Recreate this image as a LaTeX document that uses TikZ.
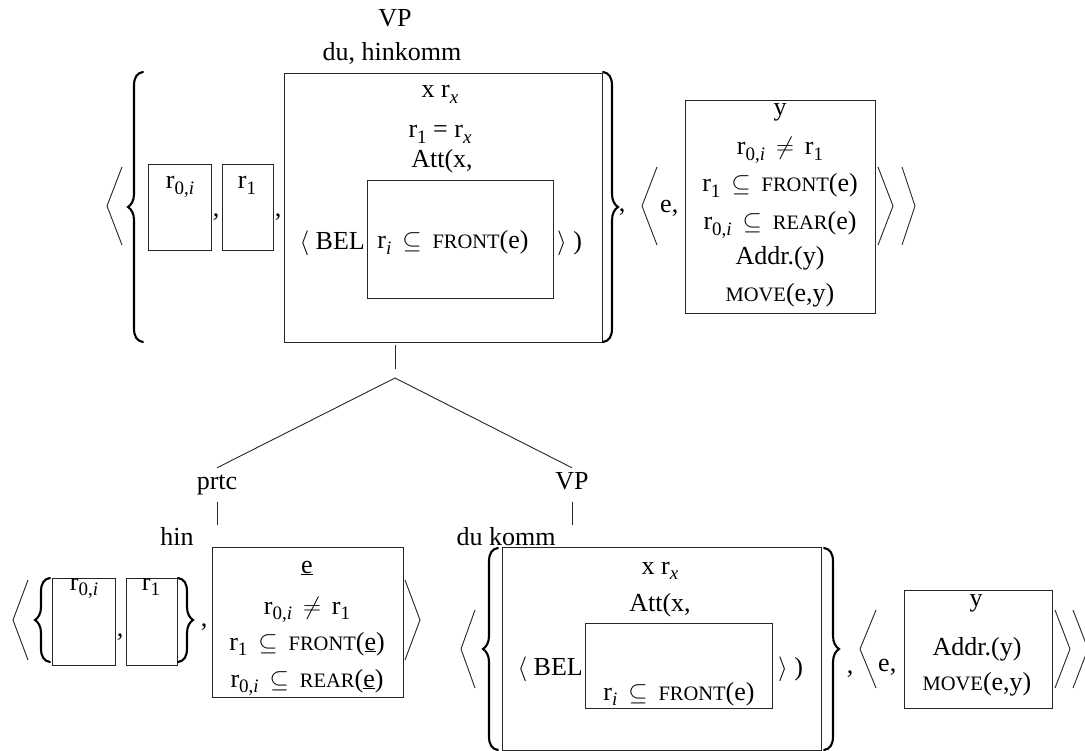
\documentclass[tikz,border=0pt]{standalone}
\usepackage{fontspec}
\setmainfont{Liberation Serif}
\newcommand{\fsz}{\fontsize{26}{31}\selectfont}
\newcommand{\lowsub}[1]{\raisebox{-0.2em}{\fontsize{19}{19}\selectfont #1}}
\newcommand{\smc}[1]{{\fontsize{20.5}{20}\selectfont #1}}
\newcommand{\myrel}[1]{\hspace{0.42em}$#1$\hspace{0.42em}}
\newcommand{\bx}[5]{\node[rbox, anchor=north west, minimum width={(#4-#2)*1pt}, minimum height={(#5-#3)*1pt}] (#1) at (#2,#3) {};}
\newcommand{\mybL}[3]{\draw[brc] ({#1+15},#2) .. controls ({#1+9},{#2+1}) and ({#1+6},{#2+5}) .. ({#1+6},{#2+14}) -- ({#1+6},{(#2+#3)/2-13}) .. controls ({#1+6},{(#2+#3)/2-6}) and ({#1+3},{(#2+#3)/2-2}) .. (#1,{(#2+#3)/2}) .. controls ({#1+3},{(#2+#3)/2+2}) and ({#1+6},{(#2+#3)/2+6}) .. ({#1+6},{(#2+#3)/2+13}) -- ({#1+6},{#3-14}) .. controls ({#1+6},{#3-5}) and ({#1+9},{#3-1}) .. ({#1+15},#3);}
\newcommand{\mybR}[3]{\draw[brc] ({#1-15},#2) .. controls ({#1-9},{#2+1}) and ({#1-6},{#2+5}) .. ({#1-6},{#2+14}) -- ({#1-6},{(#2+#3)/2-13}) .. controls ({#1-6},{(#2+#3)/2-6}) and ({#1-3},{(#2+#3)/2-2}) .. (#1,{(#2+#3)/2}) .. controls ({#1-3},{(#2+#3)/2+2}) and ({#1-6},{(#2+#3)/2+6}) .. ({#1-6},{(#2+#3)/2+13}) -- ({#1-6},{#3-14}) .. controls ({#1-6},{#3-5}) and ({#1-9},{#3-1}) .. ({#1-15},#3);}
\newcommand{\angL}[4]{\draw[ang] (#2,#3) -- (#1,{(#3+#4)/2}) -- (#2,#4);}
\newcommand{\angR}[4]{\draw[ang] (#2,#3) -- (#1,{(#3+#4)/2}) -- (#2,#4);}
\begin{document}
\begin{tikzpicture}[x=1pt,y=-1pt,
  rbox/.style={draw=black!85, line width=0.9pt, inner sep=0pt, outer sep=0pt},
  txt/.style={inner sep=0pt, anchor=base, font=\fsz},
  lbl/.style={inner xsep=0pt, inner ysep=3pt, text height=18pt, text depth=5pt, anchor=base, font=\fsz},
  ang/.style={draw=black!85, line width=0.9pt},
  brc/.style={draw=black, line width=2.1pt, line cap=round},
  treeline/.style={draw=black!85, line width=0.9pt}]
\useasboundingbox[fill=white] (0,0) rectangle (1085,751);

% ---------- top structure ----------
\node[lbl] (vpTop) at (395,27) {VP};
\node[txt] (duHin) at (392,61) {du, hinkomm};

\angL{107}{122}{167}{245}
\mybL{128}{72}{342}
\bx{bA}{148}{164}{211}{250}
\node[txt] (tA) at (180,189) {r\lowsub{0,\textit{i}}};
\node[txt] (cA1) at (216,217) {,};
\bx{bB}{222}{164}{273}{250}
\node[txt] (tB) at (247,189) {r\lowsub{1}};
\node[txt] (cA2) at (278,217) {,};
\bx{bC}{284}{73}{602}{342}
\node[txt] (tC1) at (440,98) {x r\lowsub{\textit{x}}};
\node[txt] (tC2) at (440,138) {r\lowsub{1} = r\lowsub{\textit{x}}};
\node[txt] (tC3) at (442,168) {Att(x,};
\bx{bD}{367}{180}{553}{298}
\node[txt, anchor=base east] (tC4) at (365,250) {$\langle$ BEL};
\node[txt] (tD) at (453,249) {r\lowsub{\textit{i}}\myrel{\subseteq}\smc{FRONT}(e)};
\node[txt, anchor=base west] (tC5) at (557,250) {$\rangle$ )};
\mybR{618}{72}{342}
\node[txt] (cA3) at (622,212) {,};
\angL{642}{657}{167}{245}
\node[txt, anchor=base west] (tE0) at (660,213) {e,};
\bx{bE}{685}{100}{875}{313}
\node[txt] (tE1) at (780,116) {y};
\node[txt] (tE2) at (780,155) {r\lowsub{0,\textit{i}}\myrel{\neq}r\lowsub{1}};
\node[txt] (tE3) at (780,192) {r\lowsub{1}\myrel{\subseteq}\smc{FRONT}(e)};
\node[txt] (tE4) at (780,230) {r\lowsub{0,\textit{i}}\myrel{\subseteq}\smc{REAR}(e)};
\node[txt] (tE5) at (780,265) {Addr.(y)};
\node[txt] (tE6) at (780,302) {\smc{MOVE}(e,y)};
\angR{893}{878}{167}{245}
\angR{915}{902}{167}{245}

% ---------- tree ----------
\coordinate (s1) at (395,345);
\coordinate (s2) at (395,369);
\draw[treeline] (s1) -- (s2);
\coordinate (apex) at (395,378);
\node[lbl] (prtc) at (217,489) {prtc};
\node[lbl] (vpB) at (572,489) {VP};
\draw[treeline] (apex) -- (prtc.north);
\draw[treeline] (apex) -- (vpB.north);
\coordinate (pe) at (217,525);
\coordinate (ve) at (572,525);
\draw[treeline, shorten <=5pt] (prtc.south) -- (pe);
\draw[treeline, shorten <=5pt] (vpB.south) -- (ve);

% ---------- bottom left ----------
\node[txt] (hin) at (177,545) {hin};
\angL{13}{28}{580}{660}
\mybL{35}{578}{662}
\bx{bF}{52}{578}{115}{665}
\node[txt] (tF) at (84,590) {r\lowsub{0,\textit{i}}};
\node[txt] (cB1) at (120,636) {,};
\bx{bG}{126}{578}{177}{665}
\node[txt] (tG) at (151,590) {r\lowsub{1}};
\mybR{193}{578}{662}
\node[txt] (cB2) at (204,626) {,};
\bx{bH}{212}{547}{403}{697}
\node[txt] (tH1) at (307,573) {\underline{e}};
\node[txt] (tH2) at (307,614) {r\lowsub{0,\textit{i}}\myrel{\neq}r\lowsub{1}};
\node[txt] (tH3) at (307,650) {r\lowsub{1}\myrel{\subseteq}\smc{FRONT}(\underline{e})};
\node[txt] (tH4) at (307,687) {r\lowsub{0,\textit{i}}\myrel{\subseteq}\smc{REAR}(\underline{e})};
\angR{420}{405}{580}{660}

% ---------- bottom right ----------
\node[txt] (duk) at (506,545) {du komm};
\angL{461}{475}{610}{688}
\mybL{483}{548}{750}
\bx{bI}{502}{547}{821}{750}
\node[txt] (tI1) at (660,574) {x r\lowsub{\textit{x}}};
\node[txt] (tI2) at (660,611) {Att(x,};
\bx{bJ}{585}{623}{772}{708}
\node[txt, anchor=base east] (tI3) at (583,675) {$\langle$ BEL};
\node[txt] (tJ) at (679,700) {r\lowsub{\textit{i}}\myrel{\subseteq}\smc{FRONT}(e)};
\node[txt, anchor=base west] (tI4) at (778,675) {$\rangle$ )};
\mybR{839}{548}{750}
\node[txt] (cC1) at (850,673) {,};
\angL{860}{876}{610}{688}
\node[txt, anchor=base west] (tK0) at (878,671) {e,};
\bx{bK}{904}{590}{1052}{708}
\node[txt] (tK1) at (976,606) {y};
\node[txt] (tK2) at (977,655) {Addr.(y)};
\node[txt] (tK3) at (977,690) {\smc{MOVE}(e,y)};
\angR{1070}{1055}{610}{688}
\angR{1088}{1073}{610}{688}
\end{tikzpicture}
\end{document}
